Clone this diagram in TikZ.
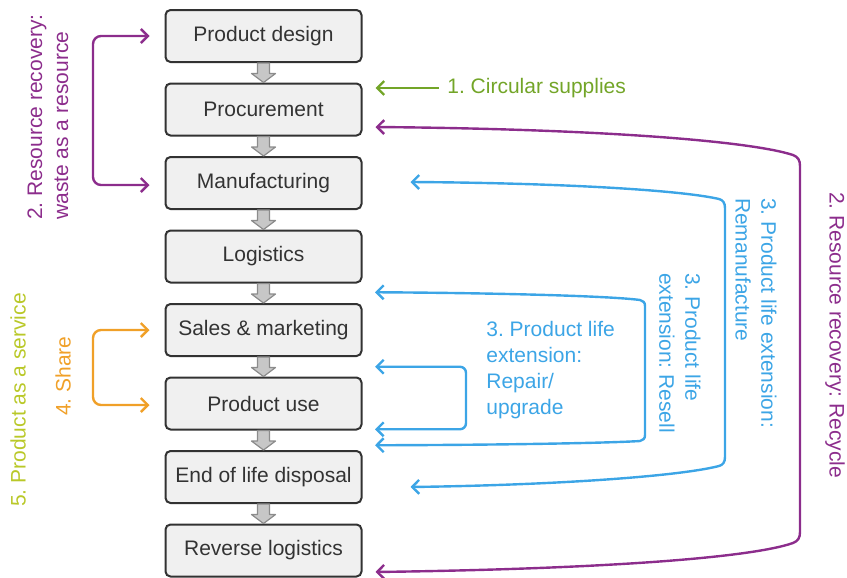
\documentclass[tikz,border=0pt]{standalone}
\usepackage{fontspec}
\setmainfont{Liberation Sans}
\usepackage{tikz}
\usetikzlibrary{arrows.meta,positioning,calc}
\definecolor{recycle}{RGB}{140,45,140}
\definecolor{extend}{RGB}{60,165,230}
\definecolor{supply}{RGB}{115,165,40}
\definecolor{share}{RGB}{240,160,40}
\definecolor{service}{RGB}{185,200,40}
\definecolor{boxline}{RGB}{50,50,50}
\tikzstyle{stage} = [rectangle, draw=boxline, line width=1pt, fill=black!6, text=black!80, minimum width=98pt, minimum height=26pt, rounded corners=2.5pt, inner sep=0pt]
\tikzstyle{flowarrow} = [draw=black!45, fill=black!22, line width=0.6pt, line join=round]
\tikzstyle{cycleline} = [draw, line width=1.2pt, {Straight Barb[length=3.5pt,width=7pt]}-{Straight Barb[length=3.5pt,width=7pt]}, line join=round]
\tikzstyle{supplyline} = [draw, line width=1.2pt, -{Straight Barb[length=3.5pt,width=7pt]}]
\tikzstyle{looptext} = [align=left, inner sep=0pt]
\frenchspacing

\begin{document}
\begin{tikzpicture}[x=0.5pt, y=-0.5pt, node distance=9.75pt, font=\fontsize{10.5}{13}\selectfont]
        \useasboundingbox (0,0) rectangle (847,578);
        % Stages
        \node [stage] (design) at (263.5,36) {Product design};
        \node [stage, below=of design] (proc) {Procurement};
        \node [stage, below=of proc] (manuf) {Manufacturing};
        \node [stage, below=of manuf] (logis) {Logistics};
        \node [stage, below=of logis] (sales) {Sales \& marketing};
        \node [stage, below=of sales] (use) {Product use};
        \node [stage, below=of use] (eol) {End of life disposal};
        \node [stage, below=of eol] (revlog) {Reverse logistics};

        % Flow between stages
        \foreach \a/\b in {design/proc, proc/manuf, manuf/logis, logis/sales, sales/use, use/eol, eol/revlog}
            \path [flowarrow] ($(\a.south)+(-6,0)$) -- ($(\b.north)+(-6,-9)$) -- ($(\b.north)+(-12,-9)$) -- (\b.north)
                -- ($(\b.north)+(12,-9)$) -- ($(\b.north)+(6,-9)$) -- ($(\a.south)+(6,0)$) -- cycle;
        \coordinate (gap45) at ($(logis.south)!0.5!(sales.north)$);
        \coordinate (gap56) at ($(sales.south)!0.5!(use.north)$);
        \coordinate (gap67) at ($(use.south)!0.5!(eol.north)$);

        % Labels
        \node [looptext, text=supply, anchor=west] (supplies) at (447,88) {1. Circular supplies};
        \node [looptext, text=recycle, rotate=90] (wastelabel) at (48,117) {2. Resource recovery:\\waste as a resource};
        \node [looptext, text=service, rotate=90] (servicelabel) at (18,400) {5. Product as a service};
        \node [looptext, text=share, rotate=90] (sharelabel) at (63,376) {4. Share};
        \node [looptext, text=extend, anchor=north west] (repairlabel) at (486,321) {3. Product life\\extension:\\Repair/\\upgrade};
        \node [looptext, text=extend, rotate=-90] (reselllabel) at (680,353) {3. Product life\\extension: Resell};
        \node [looptext, text=extend, rotate=-90] (remanlabel) at (756,313) {3. Product life extension:\\Remanufacture};
        \node [looptext, text=recycle, rotate=-90] (recyclelabel) at (835,335) {2. Resource recovery: Recycle};

        % Loops on the left
        \draw [cycleline, recycle, rounded corners=4pt] ($(design.west)+(-15,0)$) -| (93,110) |- ($(manuf.west)+(-15,2)$);
        \draw [cycleline, share, rounded corners=4pt] ($(sales.west)+(-15,0)$) -| (93,368) |- ($(use.west)+(-15,1.5)$);

        % Loops on the right
        \draw [supplyline, supply] ([xshift=-4pt]supplies.west) -- ($(proc.east)+(13,-21.5)$);
        \draw [cycleline, recycle] ($(proc.east)+(13,17.5)$) .. controls (600,129) and (750,141) .. (793,155)
            .. controls (798,157) and (800,160) .. (800,166) -- (800,532)
            .. controls (800,538) and (798,541) .. (793,543) .. controls (750,558) and (600,569) .. ($(revlog.east)+(13,21.5)$);
        \draw [cycleline, extend] ($(manuf.east)+(48,-1)$) .. controls (560,183) and (680,190) .. (719,199)
            .. controls (723,200) and (725,203) .. (725,208) -- (725,457)
            .. controls (725,462) and (723,465) .. (719,466) .. controls (680,476) and (560,485) .. ($(eol.east)+(48,10)$);
        \draw [cycleline, extend] ($(gap45)+(111.5,-1)$) .. controls (500,293) and (610,296) .. (640,300)
            .. controls (643,301) and (645,302) .. (645,306) -- (645,435)
            .. controls (645,439) and (643,440) .. (640,441) .. controls (610,443) and (500,445) .. ($(gap67)+(111.5,5)$);
        \draw [cycleline, extend, rounded corners=3pt] ($(gap56)+(111.5,0)$) -| (466,398) |- ($(gap67)+(111.5,-11)$);
    \end{tikzpicture}
\end{document}
